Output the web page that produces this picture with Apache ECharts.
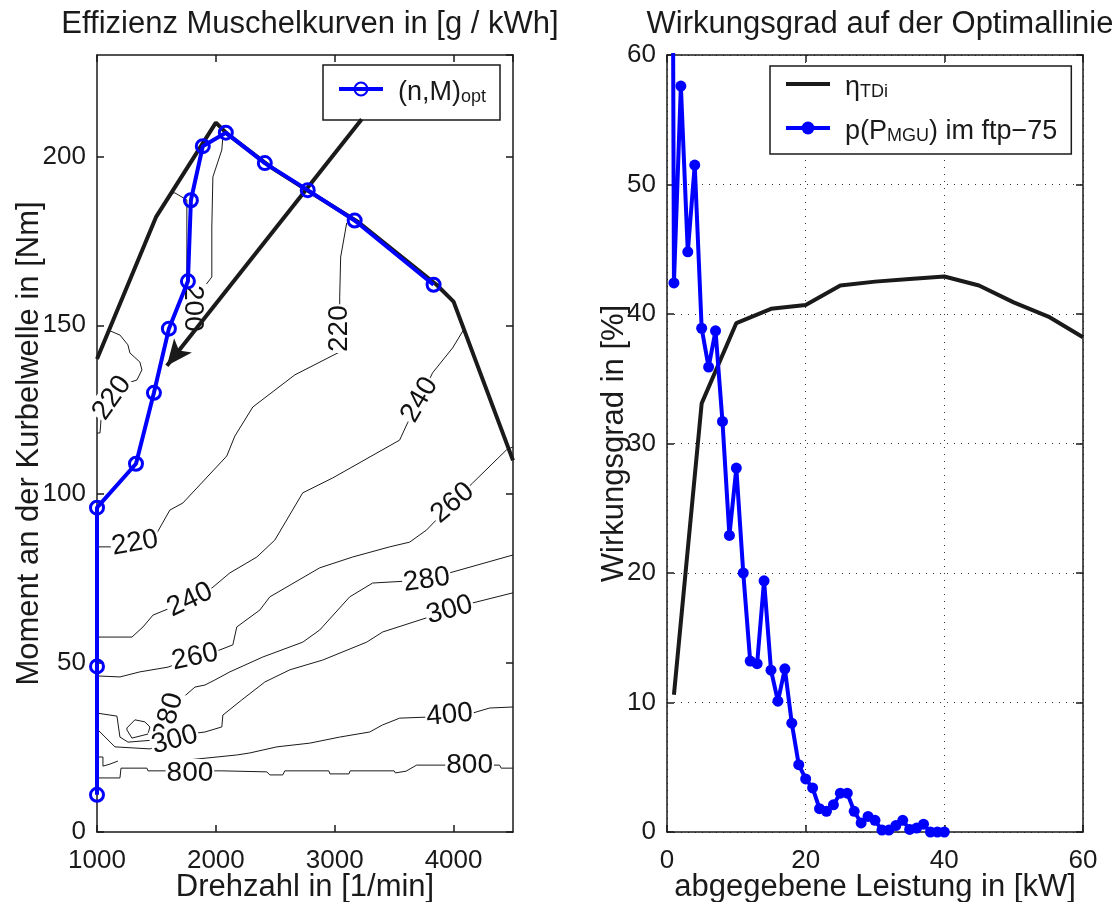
<!DOCTYPE html>
<html>
<head>
<meta charset="utf-8">
<script src="https://cdn.jsdelivr.net/npm/echarts@6/dist/echarts.min.js"></script>
<style>
  html, body { margin: 0; background: #fff; }
  #main { width: 1112px; height: 902px; }
</style>
</head>
<body>
<div id="main"></div>
<script>
// ---- linkes Diagramm: Muschelkurven (Drehzahl, Moment) ----
// Optimallinie (n,M)opt
const optN = [1000, 1000, 1000, 1328, 1479, 1605, 1765, 1790, 1890, 2084, 2412, 2773, 3168, 3832];
const optM = [11, 49, 96, 109, 130, 149, 163, 187, 203, 207, 198, 190, 181, 162];

// Volllastkurve
const fullN = [1000, 1496, 2000, 2100, 2471, 2765, 3200, 3857, 4000, 4500];
const fullM = [140, 182, 210, 206.5, 196.6, 190, 180.5, 162, 157, 110];

// Pfeil (Start, Ende)
const arrowFrom = [3227, 211];
const arrowTo = [1588, 138];

// Isolinien des spez. Verbrauchs [n, M]
const c220a = [[1000, 84.4], [1134, 84.4], [1504, 88.5], [1613, 95.3], [1723, 97.4], [2092, 111.3], [2160, 117.2], [2311, 125.8], [2664, 135.3], [3042, 142.1], [3042, 158.4], [3050, 170.2], [3101, 180.3]];
const c220b = [[1100, 148.5], [1193, 147.1], [1260, 144.2], [1277, 141.8], [1361, 139.1], [1378, 136.8], [1336, 133.8], [1260, 132.9], [1252, 130.8], [1126, 128.5], [1042, 125.5], [1025, 118.1], [1000, 118.1]];
const c200 = [[1613, 189], [1655, 189.2], [1756, 187.1], [1756, 164.3], [1765, 149.5], [1866, 152.5], [1882, 160.4], [1966, 164.3], [1966, 179.1], [1975, 193.9], [2050, 201.9], [2059, 205.7]];
const c240 = [[1000, 57.7], [1294, 57.7], [1387, 60.7], [1471, 64.2], [1782, 68.7], [1966, 72.2], [2118, 76.7], [2345, 81.4], [2496, 86.4], [2731, 100.4], [2983, 104.8], [3546, 116.0], [3613, 121.1], [3714, 127.9], [3823, 135.9], [3992, 143.3], [4090, 149]];
const c260 = [[1000, 46.2], [1193, 45.9], [1361, 47.4], [1597, 48.8], [1824, 51.8], [2034, 53.9], [2143, 55.4], [2176, 60.7], [2370, 65.7], [2454, 69.6], [2874, 78.2], [3151, 81.4], [3462, 84.4], [3630, 85.8], [3773, 89.4], [3992, 97.4], [4160, 103.3], [4445, 113.1], [4500, 114]];
const c280a = [[1000, 35.2], [1168, 34.3], [1193, 28.1], [1261, 26.6], [1471, 27.2], [1580, 28.5], [1613, 34.0], [1681, 38.5], [1824, 42.9], [1908, 43.5], [1992, 45.0], [2118, 47.4], [2395, 51.8], [2731, 56.2], [2874, 59.8], [3126, 69.6], [3319, 73.7], [3773, 74.6], [3966, 76.7], [4500, 82.0]];
const c280b = [[1252, 30.8], [1319, 33.2], [1403, 32.6], [1445, 31.1], [1429, 29.0], [1294, 27.8], [1252, 30.2], [1252, 30.8]];
const c300 = [[1000, 30.5], [1008, 30.2], [1151, 25.2], [1445, 24.6], [1655, 27.2], [1840, 29.3], [1908, 29.6], [2050, 31.1], [2059, 34.6], [2218, 39.1], [2412, 44.4], [2622, 48.0], [2899, 50.9], [3269, 56.2], [3403, 59.2], [3773, 63.4], [3966, 65.7], [4160, 67.8], [4500, 70.8]];
const c400a = [[1000, 22.2], [1050, 22.2], [1050, 19.5], [1109, 20.1], [1176, 21.0]];
const c400b = [[1588, 20.7], [1924, 21.9], [2176, 22.8], [2286, 23.4], [2513, 25.2], [2790, 26.3], [3042, 28.1], [3294, 29.6], [3403, 31.7], [3546, 33.7], [3773, 34.0], [3966, 34.6], [4160, 35.2], [4303, 36.7], [4500, 37.0]];
const c800 = [[1000, 16.0], [1193, 16.0], [1202, 18.9], [1420, 18.9], [1429, 18.1], [2050, 18.1], [2429, 17.8], [2454, 16.9], [2563, 16.9], [2580, 18.1], [2950, 18.1], [2960, 17.2], [3120, 17.2], [3130, 18.1], [3500, 18.1], [3510, 17.5], [3600, 18.0], [3689, 19.8], [4387, 19.8], [4400, 18.9], [4500, 18.9]];
const contours = [c220a, c220b, c200, c240, c260, c280a, c280b, c300, c400a, c400b, c800];

// Beschriftungen der Isolinien: [n, M, Wert, Drehung]
const contourLabels = [
  [1319, 85.5, 220, 10], [3042, 149, 220, 90], [1126, 128.5, 220, 55], [1807, 155, 200, -90],
  [1782, 68.7, 240, 25], [3714, 127.9, 240, 60], [1824, 51.8, 260, 12], [3992, 97.4, 260, 40],
  [1605, 34.3, 280, 75], [3773, 74.6, 280, 8], [1655, 27.2, 300, 15], [3966, 65.7, 300, 15],
  [3966, 34.6, 400, 5], [1782, 17.5, 800, 0], [4135, 19.8, 800, 0]
];

// ---- rechtes Diagramm: Wirkungsgrad ----
const etaP = [1, 5, 10, 15, 20, 25, 30, 35, 40, 45, 50, 55, 60];
const etaVal = [10.6, 33.1, 39.3, 40.4, 40.7, 42.2, 42.5, 42.7, 42.9, 42.2, 40.9, 39.8, 38.2];

const pmguP = [0, 1, 2, 3, 4, 5, 6, 7, 8, 9, 10, 11, 12, 13, 14, 15, 16, 17, 18, 19, 20,
  21, 22, 23, 24, 25, 26, 27, 28, 29, 30, 31, 32, 33, 34, 35, 36, 37, 38, 39, 40];
const pmguVal = [200, 42.4, 57.6, 44.8, 51.5, 38.9, 35.9, 38.7, 31.7, 22.9, 28.1, 20.0, 13.2, 13.0, 19.4, 12.5, 10.1, 12.6, 8.4, 5.2, 4.1,
  3.4, 1.8, 1.6, 2.1, 3.0, 3.0, 1.6, 0.7, 1.2, 0.9, 0.15, 0.15, 0.5, 0.9, 0.2, 0.3, 0.6, 0, 0, 0];

const FONT = "'Liberation Sans', Arial, Helvetica, sans-serif";
const INK = "#1a1a1a";

const zip = (a, b) => a.map((v, i) => [v, b[i]]);

function boxAxis(grid, pos, min, max, interval, showLabel, extra) {
  return Object.assign({
    type: "value", gridIndex: grid, position: pos, min: min, max: max, interval: interval,
    axisLine: { show: true, onZero: false, lineStyle: { color: INK, width: 1.5 } },
    axisTick: { show: true, inside: true, length: 7, lineStyle: { color: INK, width: 1.5 } },
    axisLabel: {
      show: showLabel, fontSize: 26, color: INK, fontFamily: FONT,
      margin: (pos === "bottom" ? 16 : 11), showMaxLabel: (max % interval === 0),
      formatter: v => String(v)
    },
    nameMoveOverlap: false,
    splitLine: { show: false }
  }, extra || {});
}

const dotted = { show: true, lineStyle: { color: "#333", width: 1, type: [1, 6] } };
const nameStyle = { fontSize: 31, color: INK, fontFamily: FONT };

let myChart = echarts.init(document.getElementById("main"));

let series = [];
// Isolinien
contours.forEach(c => {
  series.push({
    type: "line", xAxisIndex: 0, yAxisIndex: 0, data: c, symbol: "none",
    lineStyle: { color: INK, width: 1 }, z: 2, silent: true
  });
});
// Beschriftungen
series.push({
  type: "scatter", xAxisIndex: 0, yAxisIndex: 0, symbolSize: 0, z: 3, silent: true,
  itemStyle: { color: INK },
  data: contourLabels.map(l => ({ value: [l[0], l[1]], name: String(l[2]), label: { rotate: l[3] } })),
  label: {
    show: true, position: "inside", formatter: "{b}", fontSize: 28, color: "#111", fontFamily: FONT,
    backgroundColor: "#fff", padding: [0, 1], textBorderWidth: 0, opacity: 1
  }
});
// Volllast + Pfeil
series.push({
  type: "line", name: "full", xAxisIndex: 0, yAxisIndex: 0, data: zip(fullN, fullM), symbol: "none",
  lineStyle: { color: INK, width: 4 }, z: 4,
  markLine: {
    silent: true, symbol: ["none", "arrow"], symbolSize: [17, 26],
    lineStyle: { color: INK, width: 4, type: "solid" }, label: { show: false },
    data: [[{ coord: arrowFrom }, { coord: arrowTo }]]
  }
});
// Optimallinie
series.push({
  type: "line", name: "opt", xAxisIndex: 0, yAxisIndex: 0, data: zip(optN, optM),
  symbol: "circle", symbolSize: 13,
  itemStyle: { color: "rgba(0,0,0,0)", borderColor: "#0000ff", borderWidth: 3 },
  lineStyle: { color: "#0000ff", width: 4 }, z: 5
});
// rechts: Wirkungsgrad
series.push({
  type: "line", name: "eta", xAxisIndex: 2, yAxisIndex: 2, data: zip(etaP, etaVal), symbol: "none",
  itemStyle: { color: "rgba(0,0,0,0)" }, lineStyle: { color: INK, width: 4 }, z: 4
});
series.push({
  type: "line", name: "pmgu", xAxisIndex: 2, yAxisIndex: 2, data: zip(pmguP, pmguVal),
  symbol: "circle", symbolSize: 11, showAllSymbol: true,
  itemStyle: { color: "#0000ff" }, lineStyle: { color: "#0000ff", width: 4 }, z: 5
});

const legendBase = {
  orient: "vertical", itemWidth: 44, itemHeight: 16,
  borderColor: INK, borderWidth: 1.5, borderRadius: 0, backgroundColor: "#fff",
  lineStyle: { width: 4 },
  textStyle: {
    fontFamily: FONT, color: INK,
    rich: {
      f: { fontSize: 27, lineHeight: 34, verticalAlign: "bottom", fontFamily: FONT, color: INK, padding: [0, 0, 0, 10] },
      a: { fontSize: 27, lineHeight: 34, verticalAlign: "bottom", fontFamily: FONT, color: INK },
      s: { fontSize: 18, lineHeight: 14, verticalAlign: "bottom", fontFamily: FONT, color: INK }
    }
  }
};

option = {
  animation: false,
  backgroundColor: "#fff",
  textStyle: { fontFamily: FONT },
  title: [
    { text: "Effizienz Muschelkurven in [g / kWh]", left: 305, textAlign: "center", top: 4,
      textStyle: { fontSize: 31, fontWeight: "normal", color: INK, fontFamily: FONT } },
    { text: "Wirkungsgrad auf der Optimallinie", left: 875, textAlign: "center", top: 4,
      textStyle: { fontSize: 31, fontWeight: "normal", color: INK, fontFamily: FONT } }
  ],
  grid: [
    { left: 97, top: 55, width: 416, height: 777, outerBoundsMode: "none" },
    { left: 667, top: 55, width: 416, height: 777, outerBoundsMode: "none" }
  ],
  xAxis: [
    boxAxis(0, "bottom", 1000, 4500, 1000, true, {
      name: "Drehzahl in [1/min]", nameLocation: "middle", nameGap: 40, nameTextStyle: nameStyle
    }),
    boxAxis(0, "top", 1000, 4500, 1000, false),
    boxAxis(1, "bottom", 0, 60, 20, true, {
      name: "abgegebene Leistung in [kW]", nameLocation: "middle", nameGap: 40,
      nameTextStyle: nameStyle, splitLine: dotted
    }),
    boxAxis(1, "top", 0, 60, 20, false)
  ],
  yAxis: [
    boxAxis(0, "left", 0, 230, 50, true, {
      name: "Moment an der Kurbelwelle in [Nm]", nameLocation: "middle", nameGap: 52, nameRotate: 90,
      nameTextStyle: nameStyle
    }),
    boxAxis(0, "right", 0, 230, 50, false),
    boxAxis(1, "left", 0, 60, 10, true, {
      name: "Wirkungsgrad in [%]", nameLocation: "middle", nameGap: 37, nameRotate: 90,
      nameTextStyle: nameStyle, splitLine: dotted
    }),
    boxAxis(1, "right", 0, 60, 10, false)
  ],
  legend: [
    Object.assign({}, legendBase, {
      data: ["opt"], left: 323, top: 65, padding: [14, 14, 14, 14],
      formatter: () => "{f|(n,M)}{s|opt}"
    }),
    Object.assign({}, legendBase, {
      data: ["eta", "pmgu"], left: 770, top: 66, padding: [8, 14, 9, 14], itemGap: 17,
      formatter: name => name === "eta" ? "{f|η}{s|TDi}" : "{f|p(P}{s|MGU}{a|) im ftp−75}"
    })
  ],
  series: series
};

myChart.setOption(option);
</script>
</body>
</html>
